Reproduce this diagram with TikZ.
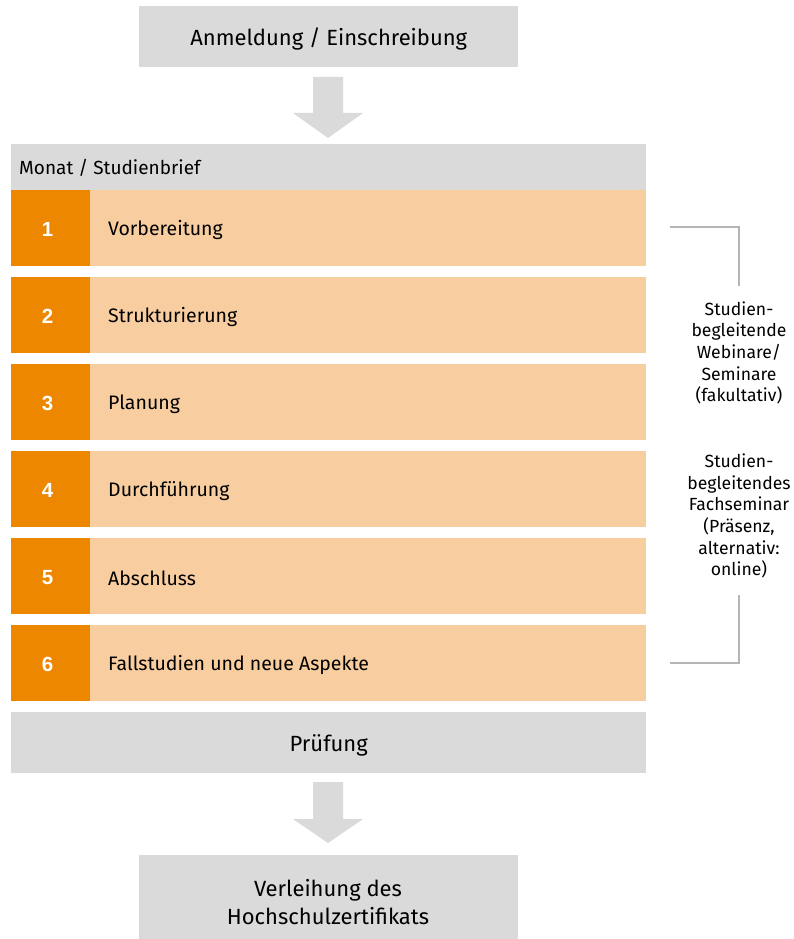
\documentclass[tikz,border=0pt]{standalone}
\usepackage{fontspec}
\setmainfont{Fira Sans}
\newfontfamily\numfont{Liberation Sans}
\definecolor{boxgray}{HTML}{DADADA}
\definecolor{darkor}{HTML}{EE8700}
\definecolor{lightor}{HTML}{F8CEA1}
\definecolor{brgray}{HTML}{B5B5B5}
\tikzset{
  graybox/.style={fill=boxgray, draw=none, inner sep=0pt, anchor=north west},
  numbox/.style={fill=darkor, draw=none, inner sep=0pt, anchor=north west, minimum width=79pt, minimum height=76pt},
  numtext/.style={text=white, inner sep=0pt, font=\numfont\bfseries\fontsize{20.5}{20.5}\selectfont},
  rowbox/.style={fill=lightor, draw=none, inner sep=0pt, anchor=north west, minimum width=556pt, minimum height=76pt},
  rowtext/.style={anchor=west, inner sep=0pt, text=black, font=\fontsize{19.5}{22}\selectfont},
  bigtext/.style={inner sep=0pt, align=center, font=\fontsize{22}{28}\selectfont},
  sidetext/.style={font=\fontsize{17.6}{21.7}\selectfont, align=center},
  blockarrow/.style={fill=boxgray, draw=none},
  bracket/.style={draw=brgray, line width=2pt}
}
\begin{document}
\begin{tikzpicture}[x=1pt, y=-1pt]
\useasboundingbox (0,0) rectangle (793,939);
% top box
\node[graybox, minimum width=379pt, minimum height=61pt] (anm) at (139,6) {};
\node[bigtext] (anmtext) at ([yshift=-2pt]anm.center) {Anmeldung / Einschreibung};
% arrow 1
\fill[blockarrow] (313,77) -- (343,77) -- (343,113) -- (363,113) -- (328,138) -- (293,113) -- (313,113) -- cycle;
% header
\node[graybox, minimum width=635pt, minimum height=46pt] (hdr) at (11,144) {};
\node[anchor=west, inner sep=0pt, font=\fontsize{19}{19}\selectfont] (hdrtext) at (19,168) {Monat / Studienbrief};
% rows
\foreach \i/\t [count=\k from 0] in {1/Vorbereitung, 2/Strukturierung, 3/Planung, 4/Durchführung, 5/Abschluss, 6/Fallstudien und neue Aspekte}{
  \node[numbox] (n\i) at (11,190+87*\k) {};
  \node[numtext] (nt\i) at ([xshift=-3pt,yshift=-1pt]n\i.center) {\i};
  \node[rowbox] (r\i) at (90,190+87*\k) {};
  \node[rowtext] (rt\i) at ([xshift=18pt,yshift=-2pt]r\i.west) {\t};
}
% Prüfung
\node[graybox, minimum width=635pt, minimum height=61pt] (pruef) at (11,712) {};
\node[bigtext] (prueftext) at ([yshift=-2.5pt]pruef.center) {Prüfung};
% arrow 2
\fill[blockarrow] (313,782) -- (343,782) -- (343,819) -- (363,819) -- (328,843) -- (293,819) -- (313,819) -- cycle;
% bottom box
\node[graybox, minimum width=379pt, minimum height=85pt] (verl) at (139,855) {};
\node[bigtext] (verltext) at (328,902) {Verleihung des\\Hochschulzertifikats};
% side texts
\node[sidetext] (side1) at (739,353) {Studien-\\begleitende\\Webinare/\\Seminare\\(fakultativ)};
\node[sidetext] (side2) at (739,516) {Studien-\\begleitendes\\Fachseminar\\(Präsenz,\\alternativ:\\online)};
% brackets
\draw[bracket] (670,227) -| (739,286);
\draw[bracket] (739,595) |- (670,663);
\end{tikzpicture}
\end{document}
